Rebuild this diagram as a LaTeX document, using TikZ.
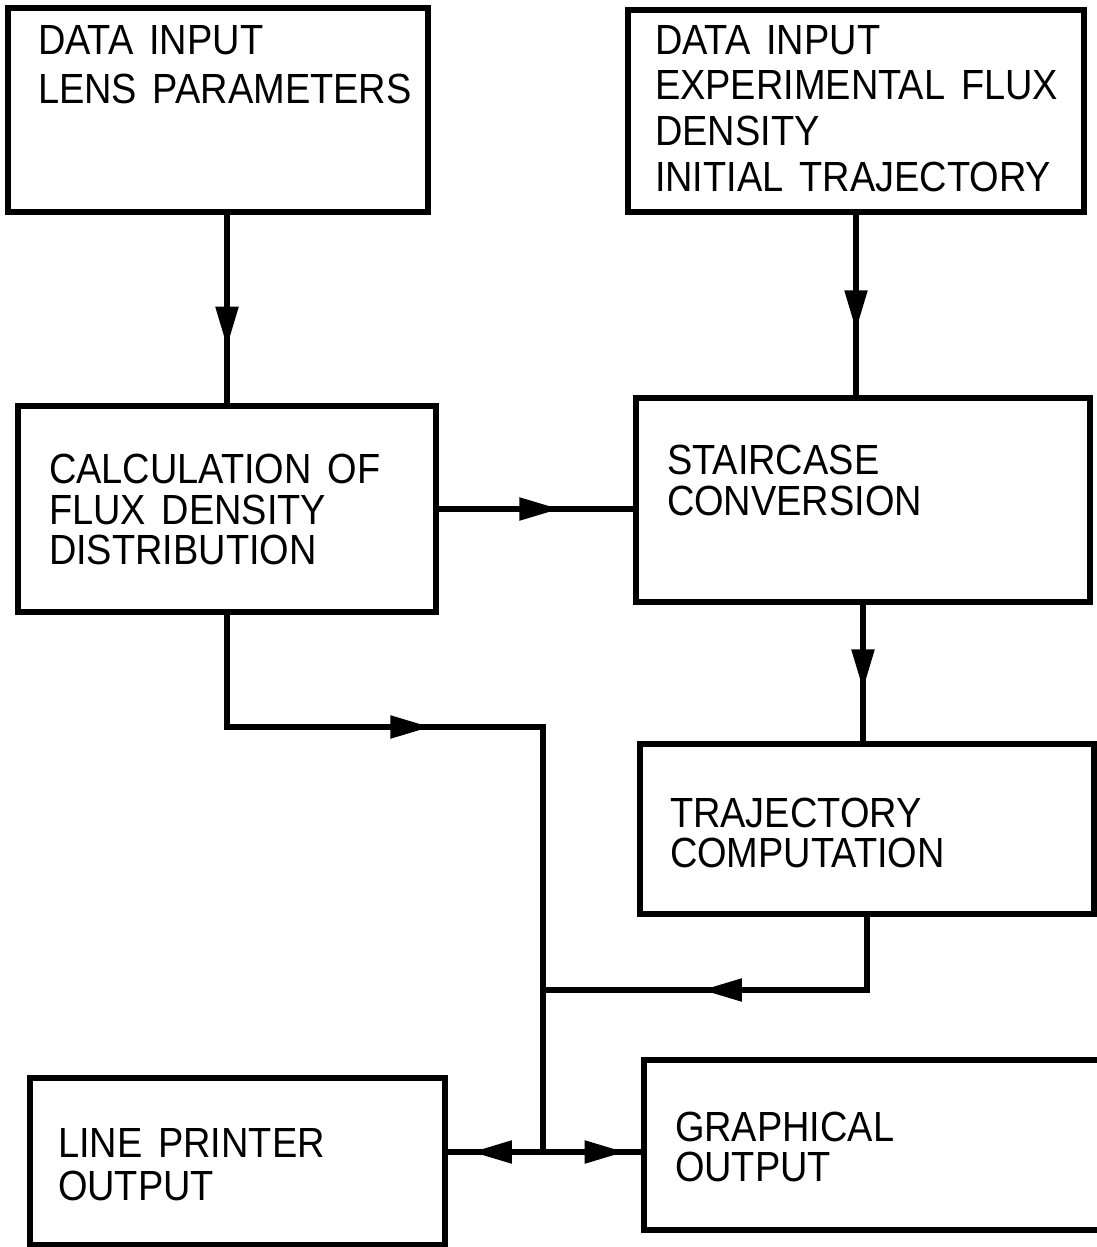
\documentclass[tikz,border=0pt]{standalone}
\usepackage{fontspec}
\setmainfont{Liberation Sans}[FakeStretch=0.9, WordSpace=1.5]
\usetikzlibrary{positioning, arrows.meta, decorations.markings}
\newcommand\lettering[1]{\fontsize{12}{#1}\selectfont}

\begin{document}
\begin{tikzpicture}[>={Triangle[length=4mm, width=2.2mm]}, line width=1.5pt,
    box/.style={draw, rectangle, inner sep=0pt},
    lbl/.style={align=left, inner sep=0pt},
    flow/.style={postaction={decorate},
        decoration={markings, mark=at position #1 with {\arrow{>}}}}]
    % Rahmen
    \useasboundingbox (0,0) rectangle (10.96,-12.47);

    % Kaesten
    \node[box, minimum width=4.20cm, minimum height=2.04cm] (lens) at (2.18,-1.10) {};
    \node[box, minimum width=4.56cm, minimum height=2.02cm] (exp) at (8.56,-1.11) {};
    \node[box, minimum width=4.18cm, minimum height=2.06cm] (calc) at (2.27,-5.09) {};
    \node[box, minimum width=4.54cm, minimum height=2.04cm] (stair) at (8.63,-5.00) {};
    \node[box, minimum width=4.54cm, minimum height=1.70cm] (traj) at (8.67,-8.29) {};
    \node[box, minimum width=4.15cm, minimum height=1.67cm] (printer) at (2.375,-11.615) {};
    \node[box, minimum width=4.66cm, minimum height=1.70cm] (graph) at (8.77,-11.45) {};

    % Beschriftungen
    \node[lbl, font=\lettering{14.2}, below right=0.17 and 0.30 of lens.north west] (lensTxt)
        {DATA INPUT\\LENS PARAMETERS};
    \node[lbl, font=\lettering{13}, below right=0.15 and 0.27 of exp.north west] (expTxt)
        {DATA INPUT\\EXPERIMENTAL FLUX\\DENSITY\\INITIAL TRAJECTORY};
    \node[lbl, font=\lettering{11.6}, below right=0.48 and 0.31 of calc.north west] (calcTxt)
        {CALCULATION OF\\FLUX DENSITY\\DISTRIBUTION};
    \node[lbl, font=\lettering{11.6}, below right=0.47 and 0.31 of stair.north west] (stairTxt)
        {STAIRCASE\\CONVERSION};
    \node[lbl, font=\lettering{11.5}, below right=0.54 and 0.30 of traj.north west] (trajTxt)
        {TRAJECTORY\\COMPUTATION};
    \node[lbl, font=\lettering{12.5}, below right=0.50 and 0.28 of printer.north west] (printerTxt)
        {LINE PRINTER\\OUTPUT};
    \node[lbl, font=\lettering{11.5}, below right=0.52 and 0.31 of graph.north west] (graphTxt)
        {GRAPHICAL\\OUTPUT};

    % Verbindungen
    \coordinate (j1) at (5.43,-7.27);
    \coordinate (j2) at (5.43,-9.90);
    \coordinate (j3) at (5.43,-11.52);
    \draw[flow=0.70] (calc.north |- lens.south) -- (calc.north);
    \draw[flow=0.64] (exp.south) -- (exp.south |- stair.north);
    \draw[flow=0.62] (calc.east) -- (calc.east -| stair.west);
    \draw[flow=0.37] (calc.south) |- (j1) -- (j3);
    \draw[flow=0.62] (stair.south) -- (stair.south |- traj.north);
    \draw[flow=0.60] (traj.south) |- (j2);
    \draw[flow=0.745] (j3) -- (j3 -| printer.east);
    \draw[flow=0.83] (j3) -- (j3 -| graph.west);
\end{tikzpicture}
\end{document}
